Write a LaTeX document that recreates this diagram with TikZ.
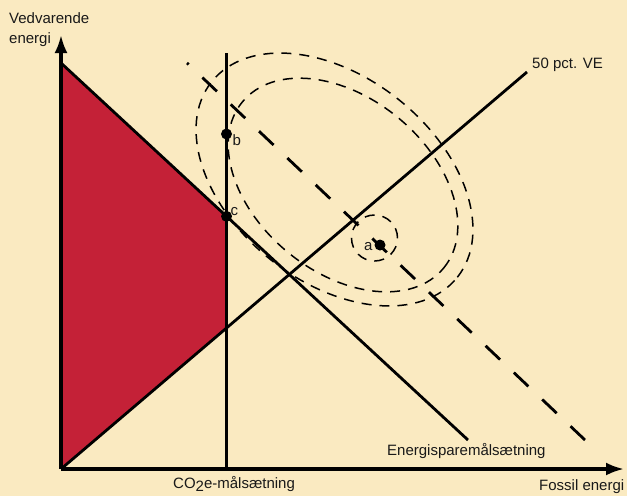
\documentclass[tikz,border=0pt]{standalone}
\usepackage{fontspec}
\setmainfont{Liberation Sans}
\usetikzlibrary{shapes.geometric, arrows.meta, calc}
\definecolor{baggrund}{RGB}{250,234,193}
\definecolor{omraade}{RGB}{196,33,55}

\begin{document}
\begin{tikzpicture}[x=1pt, y=-1pt,
        akse/.style={draw=black, line width=3.2pt, -{Latex[length=18pt, width=13pt]}},
        maal/.style={draw=black, line width=2.8pt},
        stiplet/.style={draw=black, line width=2.8pt, dash pattern=on 20pt off 19pt},
        kurve/.style={ellipse, draw=black, line width=1.5pt, dash pattern=on 10pt off 8pt, inner sep=0pt},
        punkt/.style={circle, fill=black, inner sep=0pt, minimum size=11pt},
        tekst/.style={font=\fontsize{15}{20}\selectfont, inner sep=0pt, text=black!90}
    ]
        \useasboundingbox (0,0) rectangle (627,496);
        \fill[baggrund] (0,0) rectangle (627,496);

        % Akser og linjernes endepunkter
        \coordinate (O) at (61,469);
        \coordinate (ytop) at (61,35);
        \coordinate (xend) at (624,469);
        \coordinate (es1) at (61,63);
        \coordinate (es2) at (468,440);
        \coordinate (ve2) at (527,72);
        \coordinate (co1) at (226.5,469);
        \coordinate (co2) at (226.5,53);
        \coordinate (st1) at (187,63);
        \coordinate (st2) at (585,440);
        \coordinate (c) at (intersection of es1--es2 and co1--co2);
        \coordinate (d) at (intersection of O--ve2 and co1--co2);

        % Det røde område
        \fill[omraade] (es1) -- (c) -- (d) -- (O) -- cycle;

        % Stiplede kurver omkring a
        \node[kurve, rotate=-38.5, minimum width=314pt, minimum height=205pt] (ydre) at (334.5,179.5) {};
        \node[kurve, rotate=-39.6, minimum width=261pt, minimum height=174pt] (indre) at (343,185) {};
        \node[kurve, minimum width=46pt, minimum height=46pt] (lille) at (374.5,238) {};

        % Linjer
        \draw[stiplet] (st2) -- (st1);
        \draw[maal] (es1) -- (es2);
        \draw[maal] (O) -- (ve2);
        \draw[maal, line width=3pt] (co1) -- (co2);
        \draw[akse] (O) -- (ytop);
        \draw[akse] (O) -- (xend);

        % Punkter
        \node[punkt] (a) at (380,245) {};
        \node[punkt] (b) at (co1 |- 0,134) {};
        \node[punkt] (cp) at (c) {};
        \node[tekst, anchor=base west] (atekst) at ($(a)+(-16,5)$) {a};
        \node[tekst, anchor=base west] (btekst) at ($(b)+(6,11)$) {b};
        \node[tekst, anchor=base west] (ctekst) at ($(c)+(4,-1)$) {c};

        % Tekster
        \node[tekst, anchor=base west, align=left] (yakse) at (9,43) {Vedvarende\\energi};
        \node[tekst, anchor=base west] (xakse) at (539,490) {Fossil energi};
        \node[tekst, anchor=base west] (ve) at (532,68) {50 pct. VE};
        \node[tekst, anchor=base west] (spar) at (387,455) {Energisparemålsætning};
        \node[tekst, anchor=base west] (co) at (173,488) {CO\raisebox{-3pt}{2}e-målsætning};
    \end{tikzpicture}
\end{document}
